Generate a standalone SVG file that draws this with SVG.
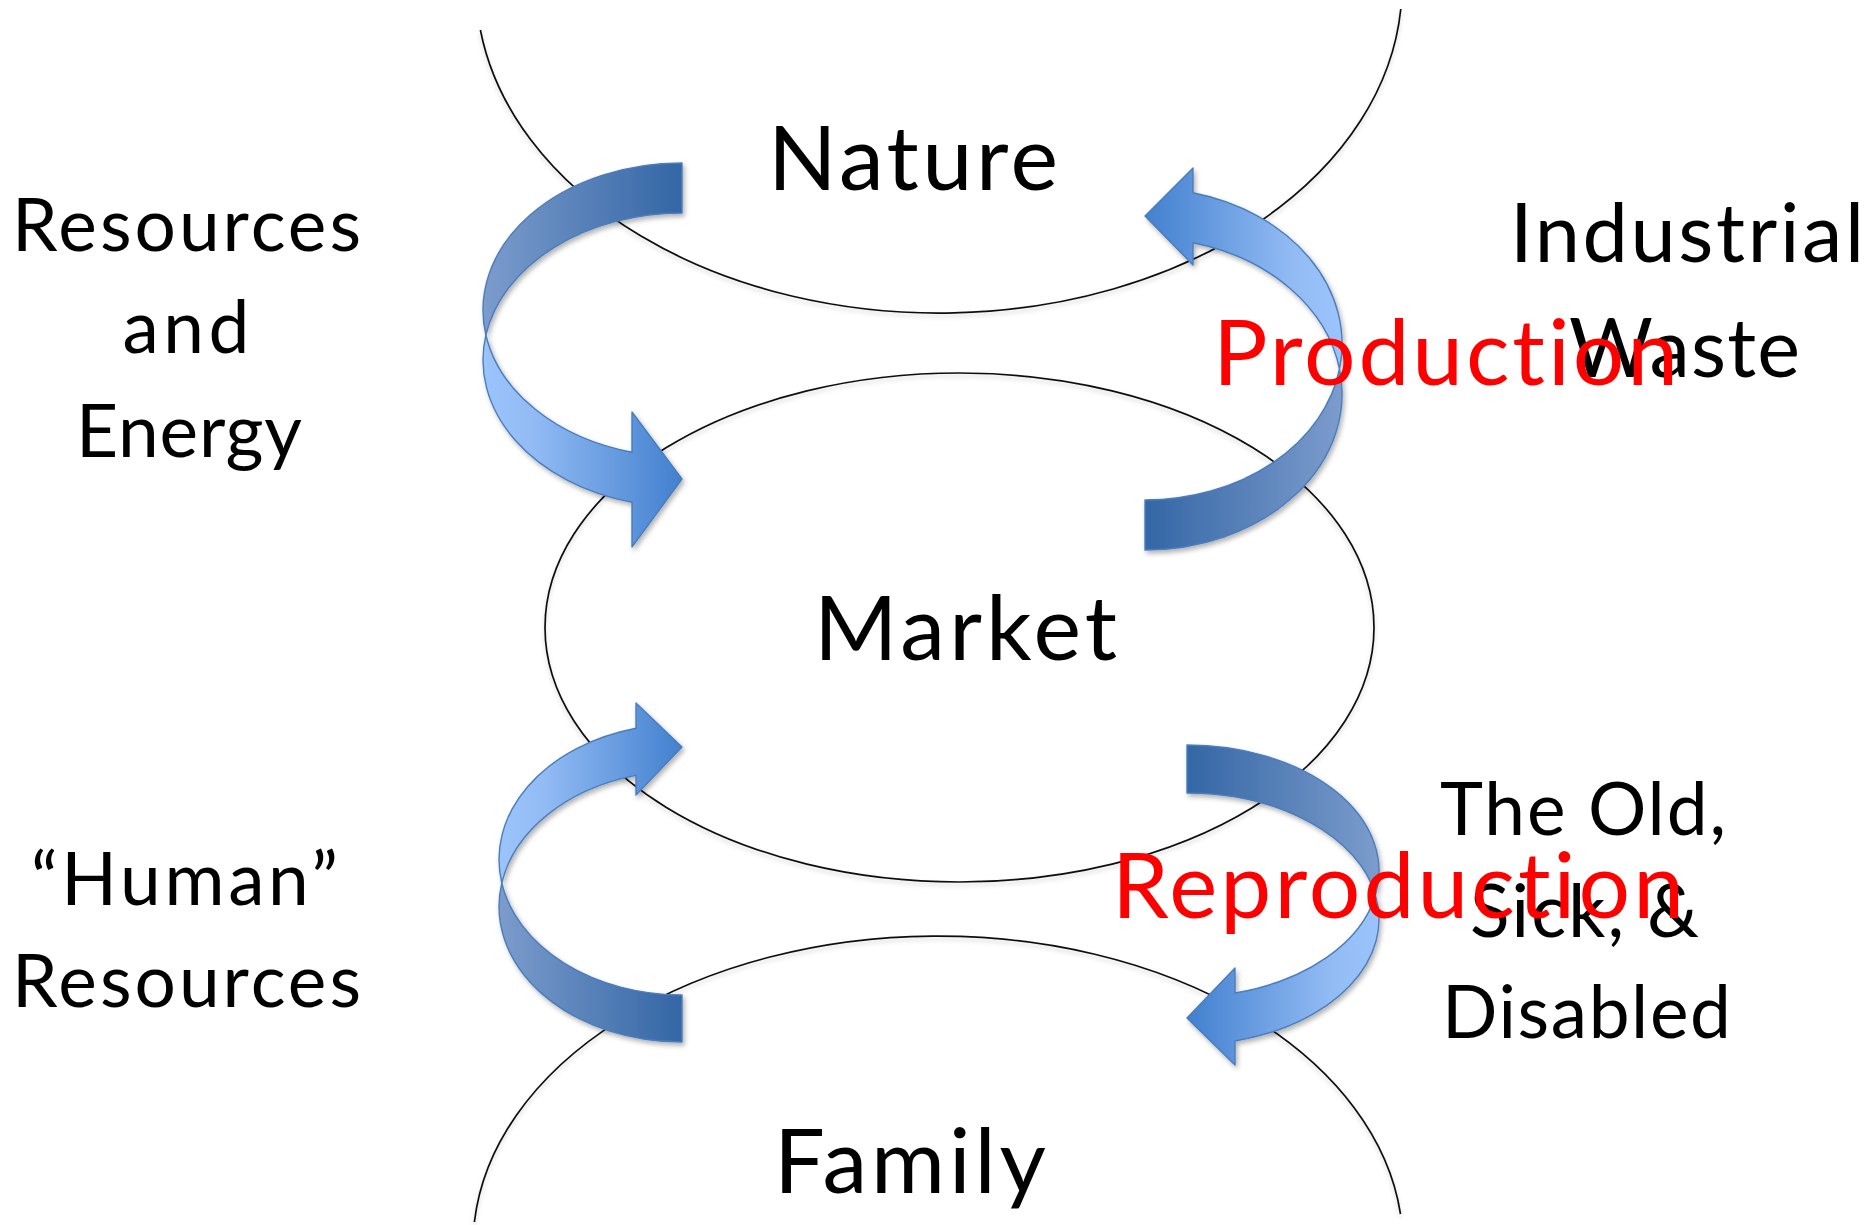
<svg xmlns="http://www.w3.org/2000/svg" width="1875" height="1225" viewBox="0 0 1875 1225">
<style>
.ell{fill:none;stroke:#111;stroke-width:1.7}
.lbl{font-family:Lato,"Open Sans","Liberation Sans",sans-serif;fill:#000;text-anchor:middle;font-variant-ligatures:none}
.red{font-family:Lato,"Open Sans","Liberation Sans",sans-serif;fill:#ff0000;text-anchor:middle;font-variant-ligatures:none}
.band{stroke:#4a7dbc;stroke-width:1.4;stroke-linejoin:round}
</style>
<defs>
<filter id="sh" x="-20%" y="-20%" width="140%" height="140%">
<feDropShadow dx="2" dy="3" stdDeviation="2.5" flood-color="#000" flood-opacity="0.3"/>
</filter>
<filter id="esh" x="-5%" y="-5%" width="110%" height="110%">
<feDropShadow dx="0" dy="3" stdDeviation="2" flood-color="#000" flood-opacity="0.18"/>
</filter>
<linearGradient id="gDarkR" x1="0" y1="0" x2="1" y2="0">
<stop offset="0" stop-color="#7c9ccc"/><stop offset="1" stop-color="#3466a5"/>
</linearGradient>
<linearGradient id="gDarkL" x1="1" y1="0" x2="0" y2="0">
<stop offset="0" stop-color="#7c9ccc"/><stop offset="1" stop-color="#3466a5"/>
</linearGradient>
<linearGradient id="gLightL" x1="0" y1="0" x2="1" y2="0">
<stop offset="0" stop-color="#9cc4fc"/><stop offset="0.25" stop-color="#92bbf4"/><stop offset="1" stop-color="#4280ce"/>
</linearGradient>
<linearGradient id="gLightR" x1="1" y1="0" x2="0" y2="0">
<stop offset="0" stop-color="#9cc4fc"/><stop offset="0.25" stop-color="#92bbf4"/><stop offset="1" stop-color="#4280ce"/>
</linearGradient>
</defs>
<rect width="1875" height="1225" fill="#fff"/>

<g id="nature">
<path class="ell" filter="url(#esh)" d="M 480.4,30 A 463 328 0 0 0 1400.8,9"/>
<text class="lbl" x="913" y="190" font-size="90" textLength="290">Nature</text>
</g>

<g id="market">
<ellipse class="ell" filter="url(#esh)" cx="959.5" cy="627.5" rx="414.5" ry="254.5"/>
<text class="lbl" x="965.5" y="660" font-size="90" textLength="303">Market</text>
</g>

<g id="family">
<path class="ell" filter="url(#esh)" d="M 474.4,1222 A 465 310 0 0 1 1400.5,1214"/>
<text class="lbl" x="910" y="1193" font-size="90" textLength="272">Family</text>
</g>

<g id="connectors">
<g id="arrow-resources" filter="url(#sh)">
<path class="band" fill="url(#gDarkR)" d="M 682,163 A 199 147 0 0 0 485.9,335 A 199 147 0 0 1 682,213 Z"/>
<path class="band" fill="url(#gLightL)" d="M 485.9,335 A 199 147 0 0 0 632,452.3 L 632,412 L 682,479 L 632,547 L 632,502.3 A 199 147 0 0 1 485.9,335 Z"/>
</g>
<g id="arrow-waste" filter="url(#sh)">
<path class="band" fill="url(#gDarkL)" d="M 1145,550 A 197 156 0 0 0 1339.5,369 A 197 156 0 0 1 1145,500 Z"/>
<path class="band" fill="url(#gLightR)" d="M 1339.5,369 A 197 156 0 0 0 1193,192.7 L 1193,168 L 1145,216 L 1193,265 L 1193,242.7 A 197 156 0 0 1 1339.5,369 Z"/>
</g>
<g id="arrow-human" filter="url(#sh)">
<path class="band" fill="url(#gDarkR)" d="M 682,1042 A 183 135.5 0 0 1 501.8,883 A 183 135.5 0 0 0 682,995 Z"/>
<path class="band" fill="url(#gLightL)" d="M 501.8,883 A 183 135.5 0 0 1 636,728.3 L 636,703 L 682,747 L 636,795 L 636,775.4 A 183 135.5 0 0 0 501.8,883 Z"/>
</g>
<g id="arrow-old" filter="url(#sh)">
<path class="band" fill="url(#gDarkL)" d="M 1187,745 A 192 126 0 0 1 1375.5,895 A 192 126 0 0 0 1187,793 Z"/>
<path class="band" fill="url(#gLightR)" d="M 1375.5,895 A 192 126 0 0 1 1235,1041 L 1235,1065 L 1187,1018 L 1235,968 L 1235,993 A 192 126 0 0 0 1375.5,895 Z"/>
</g>
</g>

<g id="label-resources">
<text class="lbl" x="186.5" y="251" font-size="73" textLength="349">Resources</text>
<text class="lbl" x="186" y="353" font-size="73" textLength="127">and</text>
<text class="lbl" x="189" y="457" font-size="73" textLength="226">Energy</text>
</g>
<g id="label-waste">
<text class="lbl" x="1687" y="262" font-size="81" textLength="354">Industrial</text>
<text class="lbl" x="1684.5" y="377" font-size="81" textLength="231">Waste</text>
</g>
<g id="label-human">
<text class="lbl" x="184.5" y="905" font-size="73" textLength="307">&#8220;Human&#8221;</text>
<text class="lbl" x="186.5" y="1007" font-size="73" textLength="349">Resources</text>
</g>
<g id="label-old">
<text class="lbl" x="1583" y="835" font-size="73" textLength="286">The Old,</text>
<text class="lbl" x="1584.5" y="937" font-size="73" textLength="229">Sick, &amp;</text>
<text class="lbl" x="1586.5" y="1038" font-size="73" textLength="289">Disabled</text>
</g>
<g id="label-production">
<text class="red" x="1445.5" y="385" font-size="91" textLength="465">Production</text>
</g>
<g id="label-reproduction">
<text class="red" x="1398" y="918" font-size="91" textLength="572">Reproduction</text>
</g>
</svg>
